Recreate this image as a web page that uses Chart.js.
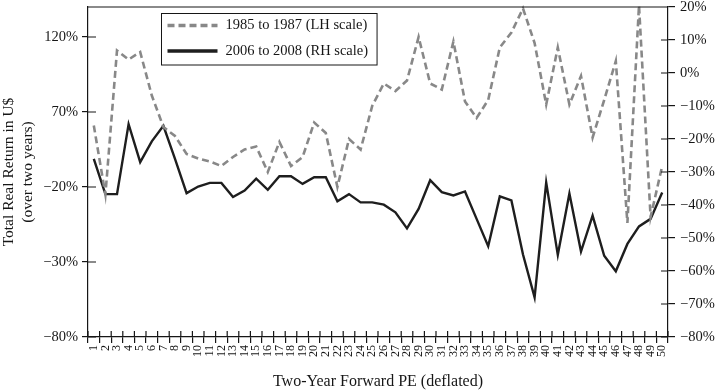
<!DOCTYPE html>
<html>
<head>
  <title>PE vs return</title>
  <script src="https://cdn.jsdelivr.net/npm/chart.js"></script>
  <style>
    html, body { margin: 0; padding: 0; background: #fff; }
    #wrap { width: 718px; height: 391px; }
  </style>
</head>
<body>
  <div id="wrap"><canvas id="chart"></canvas></div>

  <script>
    // x categories: two-year forward PE buckets
    const categories = ['1','2','3','4','5','6','7','8','9','10','11','12','13','14','15','16','17','18','19','20',
      '21','22','23','24','25','26','27','28','29','30','31','32','33','34','35','36','37','38','39','40',
      '41','42','43','44','45','46','47','48','49','50'];

    // 1985 to 1987, left hand scale (%)
    const returns1985 = [61, 15, 111, 105, 110, 81, 60, 54, 42, 39, 37, 34, 40, 45, 47, 30, 50, 34, 40, 63,
      56, 20, 52, 45, 74, 89, 84, 91, 120, 89, 85, 117, 77, 66, 78, 113, 123, 139, 116, 75,
      113, 75, 94, 53, 78, 104, -4, 141, 0, 34];

    // 2006 to 2008, right hand scale (%)
    const returns2006 = [-26, -36.7, -36.7, -15.5, -27, -20.7, -16, -26, -36.4, -34.4, -33.3, -33.3, -37.6, -35.6, -32, -35.4, -31.3, -31.3, -33.6, -31.6,
      -31.6, -38.9, -36.7, -39.2, -39.2, -39.9, -42.2, -47.1, -41.2, -32.5, -36.1, -37.1, -35.9, -44.2, -52.5, -37.4, -38.6, -55, -68, -33.2,
      -55.1, -36.5, -54.1, -43.2, -55.4, -60.1, -51.8, -46.5, -44.2, -36.2];

    const leftTickValues = [-80, -30, 20, 70, 120];
    const leftTickLabels = ['\u221280%', '\u221230%', '\u221220%', '70%', '120%'];
    const rightTickValues = [-80, -70, -60, -50, -40, -30, -20, -10, 0, 10, 20];

    const seriesNames = ['1985 to 1987 (LH scale)', '2006 to 2008 (RH scale)'];

    const serif = "'Liberation Serif', 'DejaVu Serif', serif";
    const ink = '#161616';

    function pct(v) {
      return (v < 0 ? '\u2212' + Math.abs(v) : v) + '%';
    }

    // tick marks that cross the axis lines
    const crossTicks = {
      id: 'crossTicks',
      afterDraw(chart) {
        const ctx = chart.ctx;
        const a = chart.chartArea;
        const s = chart.scales;
        ctx.save();
        ctx.strokeStyle = ink;
        ctx.lineWidth = 1.2;
        ctx.beginPath();
        s.yL.ticks.forEach(t => {
          const y = s.yL.getPixelForValue(t.value);
          ctx.moveTo(a.left, y); ctx.lineTo(a.left + 8, y);
        });
        s.yR.ticks.forEach(t => {
          const y = s.yR.getPixelForValue(t.value);
          ctx.moveTo(a.right - 7, y); ctx.lineTo(a.right, y);
        });
        for (let i = 0; i <= categories.length; i++) {
          const x = a.left + (a.right - a.left) * i / categories.length;
          ctx.moveTo(x, a.bottom - 6); ctx.lineTo(x, a.bottom);
        }
        // top frame line
        ctx.moveTo(a.left, a.top); ctx.lineTo(a.right, a.top);
        ctx.stroke();
        ctx.restore();
      }
    };

    // boxed legend inside the plot
    const boxLegend = {
      id: 'boxLegend',
      afterDraw(chart) {
        const ctx = chart.ctx;
        ctx.save();
        ctx.font = '14.5px ' + serif;
        const w = Math.max(...seriesNames.map(n => ctx.measureText(n).width));
        const x0 = 161.5, y0 = 13.5;
        const bw = 64 + w + 9, bh = 51.5;
        ctx.fillStyle = '#fff';
        ctx.fillRect(x0, y0, bw, bh);
        ctx.strokeStyle = ink;
        ctx.lineWidth = 1;
        ctx.strokeRect(x0, y0, bw, bh);
        chart.data.datasets.forEach((ds, i) => {
          const y = y0 + 12 + i * 25.5;
          ctx.beginPath();
          ctx.setLineDash(ds.borderDash || []);
          ctx.strokeStyle = ds.borderColor;
          ctx.lineWidth = ds.borderWidth + 1;
          ctx.moveTo(x0 + 6, y); ctx.lineTo(x0 + 56, y);
          ctx.stroke();
          ctx.setLineDash([]);
          ctx.fillStyle = ink;
          ctx.textBaseline = 'middle';
          ctx.fillText(ds.label, x0 + 64, y);
        });
        ctx.restore();
      }
    };

    function fixVertical(width) {
      return scale => {
        scale.width = width;
        scale.paddingTop = 0;
        scale.paddingBottom = 0;
      };
    }

    const ctx = document.getElementById('chart').getContext('2d');
    new Chart(ctx, {
      type: 'line',
      data: {
        labels: categories,
        datasets: [
          {
            label: seriesNames[0],
            data: returns1985,
            yAxisID: 'yL',
            borderColor: '#888',
            borderWidth: 2.6,
            borderDash: [7, 4],
            pointRadius: 0,
            tension: 0,
            clip: 5,
          },
          {
            label: seriesNames[1],
            data: returns2006,
            yAxisID: 'yR',
            borderColor: '#1e1e1e',
            borderWidth: 2.4,
            pointRadius: 0,
            tension: 0,
          },
        ],
      },
      options: {
        responsive: true,
        maintainAspectRatio: false,
        animation: false,
        layout: { padding: { top: 7, left: 0, right: 0, bottom: 0 } },
        plugins: {
          legend: { display: false },
          tooltip: { enabled: false },
        },
        scales: {
          x: {
            offset: true,
            grid: { display: true, drawOnChartArea: false, offset: true, tickLength: 6, color: ink, lineWidth: 1.2 },
            border: { color: ink, width: 1.2 },
            ticks: {
              autoSkip: false,
              minRotation: 90,
              maxRotation: 90,
              padding: 2,
              color: ink,
              font: { family: serif, size: 12 },
            },
            title: {
              display: true,
              text: 'Two-Year Forward PE (deflated)',
              color: ink,
              font: { family: serif, size: 16 },
              padding: { top: 4, bottom: 0 },
            },
            afterFit(scale) {
              scale.height = 54;
              scale.paddingLeft = 0;
              scale.paddingRight = 0;
            },
          },
          yL: {
            position: 'left',
            min: -80,
            max: 140,
            afterBuildTicks(scale) { scale.ticks = leftTickValues.map(v => ({ value: v })); },
            grid: { display: true, drawOnChartArea: false, tickLength: 6, color: ink, lineWidth: 1.2 },
            border: { color: ink, width: 1.2 },
            ticks: {
              color: ink,
              padding: 4,
              font: { family: serif, size: 14.5 },
              callback: v => leftTickLabels[leftTickValues.indexOf(v)],
            },
            title: {
              display: true,
              text: ['Total Real Return in U$', '(over two years)'],
              color: ink,
              font: { family: serif, size: 15.5 },
              padding: { top: 0, bottom: 1 },
            },
            afterFit: fixVertical(88),
          },
          yR: {
            position: 'right',
            min: -80,
            max: 20,
            afterBuildTicks(scale) { scale.ticks = rightTickValues.map(v => ({ value: v })); },
            grid: { display: true, drawOnChartArea: false, tickLength: 7, color: ink, lineWidth: 1.2 },
            border: { color: ink, width: 1.2 },
            ticks: {
              color: ink,
              padding: 5,
              font: { family: serif, size: 14.5 },
              callback: v => pct(v),
            },
            afterFit: fixVertical(50),
          },
        },
      },
      plugins: [crossTicks, boxLegend],
    });
  </script>
</body>
</html>
